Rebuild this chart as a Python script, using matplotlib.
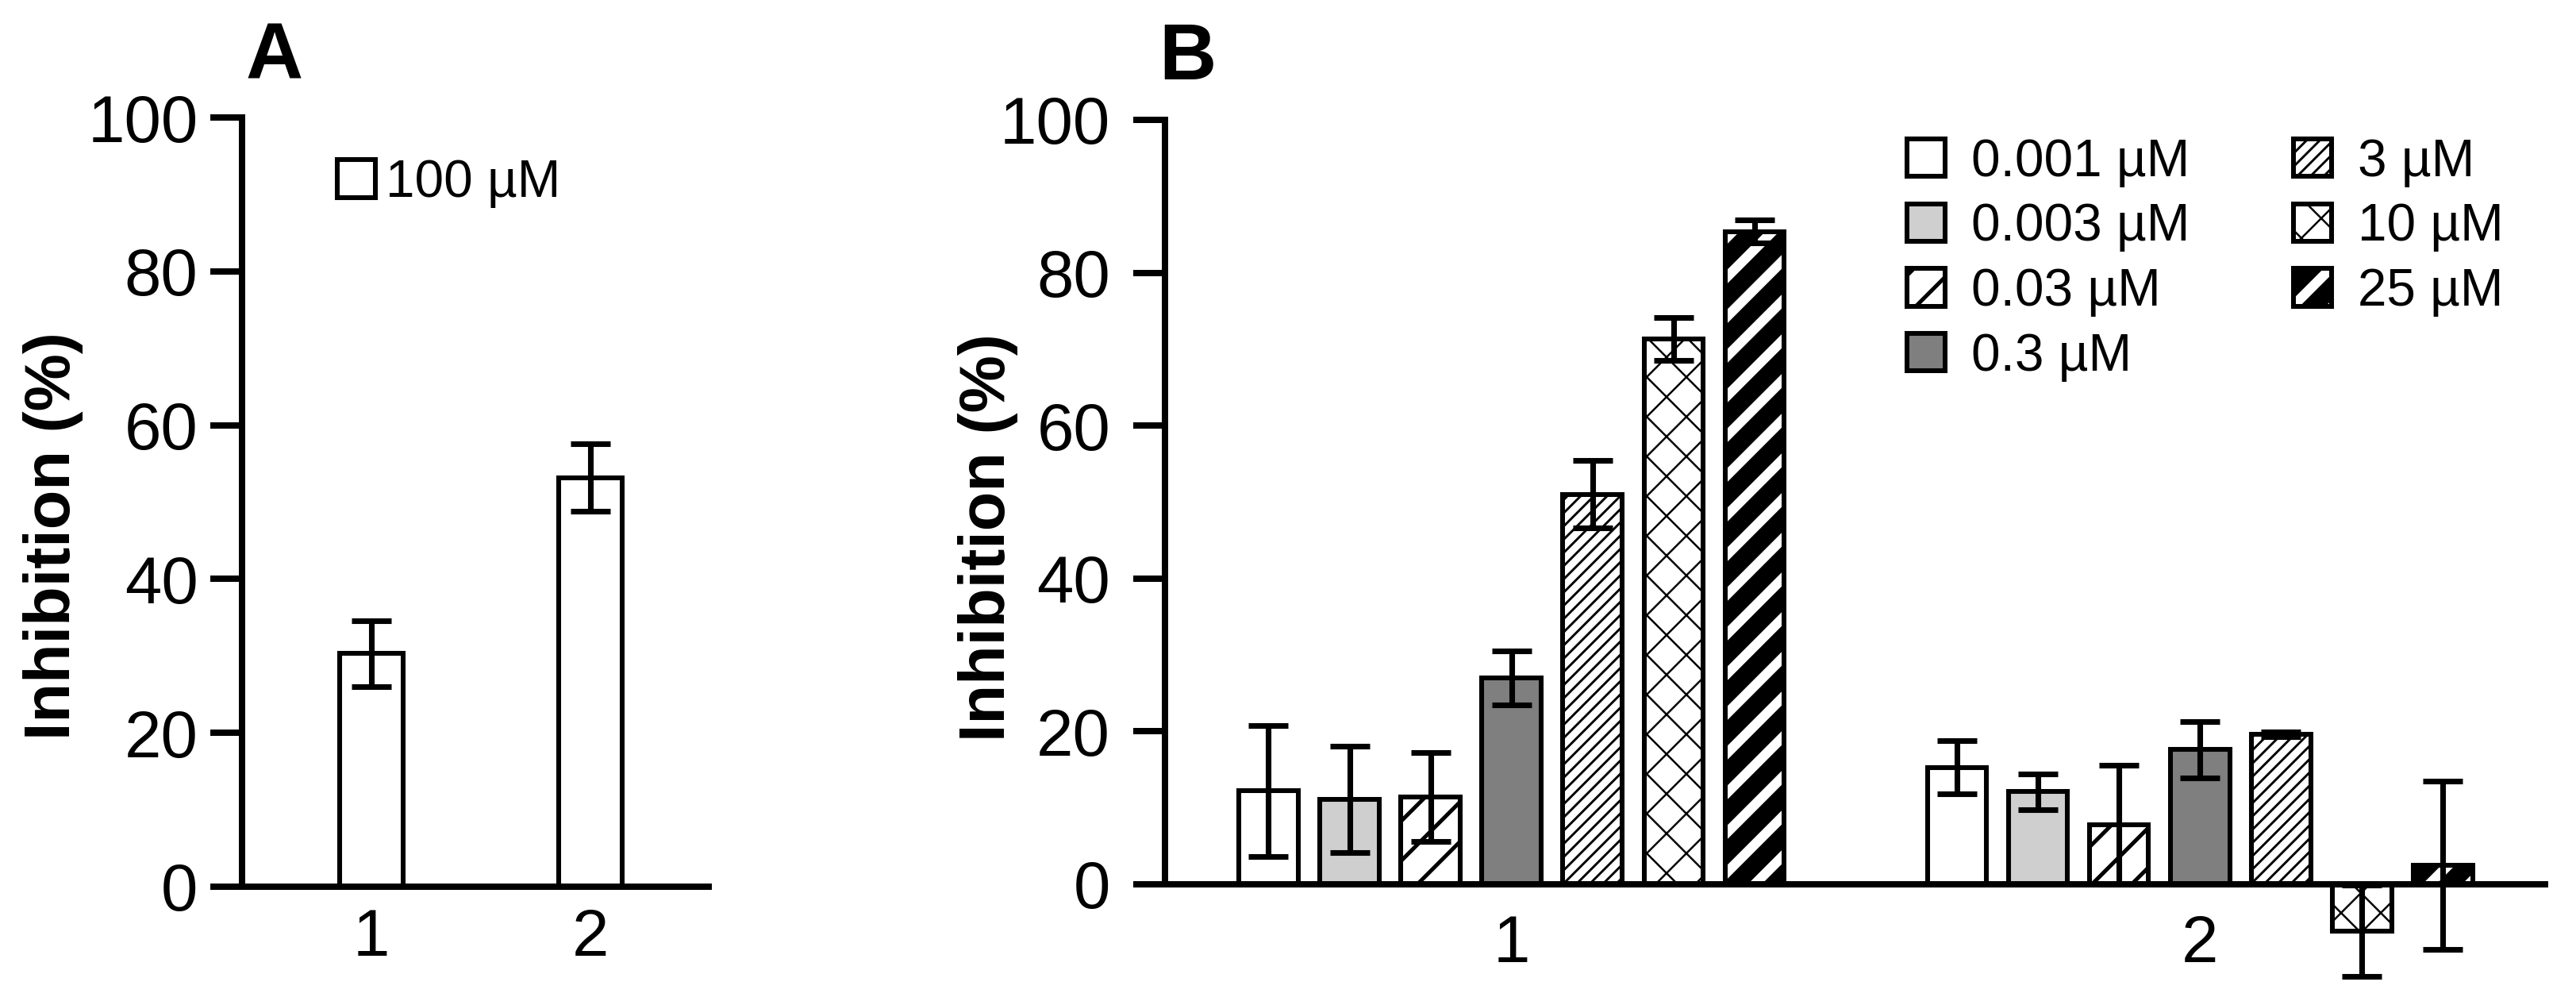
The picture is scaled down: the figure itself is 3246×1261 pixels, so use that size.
import matplotlib
matplotlib.use("Agg")
import matplotlib.pyplot as plt

plt.rcParams['font.family'] = ['Liberation Sans', 'DejaVu Sans']

# panel A: 100 uM single concentration
a_groups = ['1', '2']
a_values = [30.3, 53.2]
a_errors = [4.3, 4.4]
a_label = '100 µM'

# panel B: concentration series
b_groups = ['1', '2']
conc_labels = ['0.001 µM', '0.003 µM', '0.03 µM', '0.3 µM', '3 µM', '10 µM', '25 µM']
inhib_1 = [12.2, 11.1, 11.4, 27.0, 51.0, 71.3, 85.4]
err_1 = [8.6, 7.0, 5.8, 3.5, 4.4, 2.8, 1.5]
inhib_2 = [15.3, 12.1, 7.8, 17.6, 19.6, -6.1, 2.5]
err_2 = [3.5, 2.3, 7.8, 3.7, 0.3, 6.0, 11.0]

# bar styles per concentration
fills = ['white', '#cfcfcf', 'white', '#7f7f7f', 'white', 'white', 'white']
hatches = [None, None, '/', None, '///', 'x', '/']
hatch_lws = [1.0, 1.0, 2.4, 1.0, 1.4, 1.2, 11.0]

DPI = 150
fig = plt.figure(figsize=(3246 / DPI, 1261 / DPI), dpi=DPI)

EDGE = 2.9
SPINE = 3.84
ELW = 3.4
CAP = 11.8
TICK_FS = 40
LAB_FS = 39
LEG_FS = 31.5


def style_axes(ax, ypad):
    ax.spines['top'].set_visible(False)
    ax.spines['right'].set_visible(False)
    for s in ('left', 'bottom'):
        ax.spines[s].set_linewidth(SPINE)
    ax.tick_params(axis='y', length=19, width=SPINE, labelsize=TICK_FS, pad=ypad)
    ax.set_yticks([0, 20, 40, 60, 80, 100])


# ---------- panel A ----------
axA = fig.add_axes([0.094, 0.1142, 0.1811, 0.7684])
xa = [1, 2]
barsA = axA.bar(xa, a_values, width=0.29, color='white', edgecolor='black',
                linewidth=EDGE, label=a_label, zorder=1)
axA.errorbar(xa, a_values, yerr=a_errors, fmt='none', ecolor='black',
             elinewidth=ELW, capsize=CAP, capthick=ELW, zorder=3)
axA.set_xlim(0.409, 2.54)
axA.set_ylim(0, 100)
style_axes(axA, 7.7)
axA.set_xticks(xa)
axA.set_xticklabels(a_groups)
axA.tick_params(axis='x', length=0, labelsize=TICK_FS, pad=12.5)
axA.set_ylabel('Inhibition (%)', fontsize=LAB_FS, fontweight='bold')
axA.yaxis.set_label_coords(-0.34, 0.456)
axA.legend(handles=[barsA], loc='upper left', bbox_to_anchor=(0.1309, 0.8414),
           bbox_transform=fig.transFigure, frameon=False, fontsize=LEG_FS,
           handlelength=0.73, handleheight=0.73, handletextpad=0.2,
           borderpad=0, borderaxespad=0)

# ---------- panel B ----------
axB = fig.add_axes([0.4522, 0.0174, 0.5358, 0.8629])
group_gap = 8.5
handles = []
for k in range(len(conc_labels)):
    xs = [g * group_gap + (k - 3) for g in range(len(b_groups))]
    vals = [inhib_1[k], inhib_2[k]]
    errs = [err_1[k], err_2[k]]
    with plt.rc_context({'hatch.linewidth': hatch_lws[k]}):
        bars = axB.bar(xs, vals, width=0.73, color=fills[k], edgecolor='black',
                       linewidth=EDGE, hatch=hatches[k], label=conc_labels[k],
                       zorder=1)
    for p in bars:
        if hasattr(p, 'set_hatch_linewidth'):
            p.set_hatch_linewidth(hatch_lws[k])
    axB.errorbar(xs, vals, yerr=errs, fmt='none', ecolor='black',
                 elinewidth=ELW, capsize=CAP, capthick=ELW, zorder=3)
    handles.append(bars)

axB.set_xlim(-4.28, 12.76)
axB.set_ylim(-13, 100)
style_axes(axB, 14)
axB.spines['bottom'].set_position(('data', 0))
axB.spines['left'].set_bounds(0, 100)
axB.set_xticks([g * group_gap for g in range(len(b_groups))])
axB.set_xticklabels(b_groups)
axB.tick_params(axis='x', length=0, labelsize=TICK_FS, pad=18)
axB.set_ylabel('Inhibition (%)', fontsize=LAB_FS, fontweight='bold')
axB.yaxis.set_label_coords(-0.106, 0.5165)
with plt.rc_context({'hatch.linewidth': 1.0}):
    legB = axB.legend(handles=handles, ncol=2, loc='upper left',
                      bbox_to_anchor=(0.7403, 0.8624),
                      bbox_transform=fig.transFigure, frameon=False,
                      fontsize=LEG_FS, handlelength=0.73, handleheight=0.73,
                      handletextpad=0.5, labelspacing=0.3, columnspacing=2.0,
                      borderpad=0, borderaxespad=0)
for p, lw in zip(legB.get_patches(), hatch_lws):
    if hasattr(p, 'set_hatch_linewidth'):
        p.set_hatch_linewidth(lw)

# panel letters
fig.text(0.0955, 0.9207, 'A', fontsize=48, fontweight='bold', va='baseline')
fig.text(0.450, 0.9207, 'B', fontsize=48, fontweight='bold', va='baseline')

fig.savefig('out.png', dpi=DPI)
